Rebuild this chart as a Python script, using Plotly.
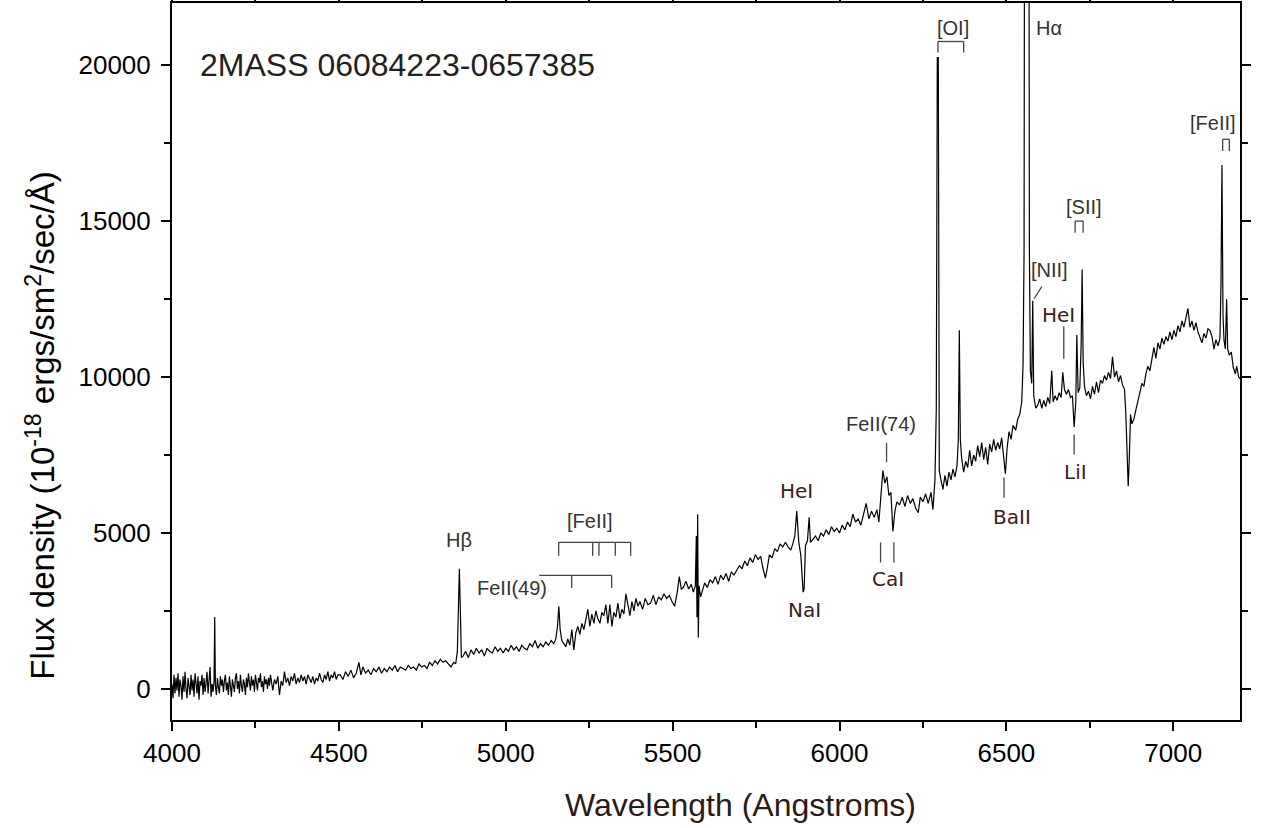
import plotly.graph_objects as go

# ---------------- spectrum data ----------------
# blue, noisy part: (wavelength, flux) points
seg_a = [(4000, 150), (4003, -300), (4006, 450), (4009, -150), (4012, 350), (4015, -50), (4018, 500),
         (4021, -250), (4024, 300), (4027, 100), (4030, -350), (4033, 400), (4036, -100), (4039, 550),
         (4042, 0), (4045, -300), (4048, 350), (4051, 150), (4054, -200), (4057, 450), (4060, -50),
         (4063, 300), (4066, -250), (4069, 500), (4072, 50), (4075, -150), (4078, 400), (4081, -350),
         (4084, 250), (4087, 100), (4090, 450), (4093, -200), (4096, 350), (4099, -100), (4102, 200),
         (4105, 550), (4108, -150), (4111, 300), (4114, 700), (4117, -250), (4120, 150), (4123, -100),
         (4126, 250), (4128, 2300), (4130, 100), (4133, -200), (4136, 350), (4139, 50), (4142, -150),
         (4145, 400), (4148, 100), (4151, 300), (4154, -100), (4157, 250), (4160, 450), (4163, -50),
         (4166, 200), (4169, -200), (4172, 400), (4175, 100), (4178, -250), (4181, 300), (4184, 150),
         (4187, -100), (4190, 350), (4193, 500), (4196, 0), (4199, 250), (4202, -150), (4205, 450),
         (4208, 100), (4211, -100), (4214, 300), (4217, 150), (4220, -200), (4223, 350), (4226, 50),
         (4229, 500), (4232, 200), (4235, -50), (4238, 400), (4241, 100), (4244, 300), (4247, -100),
         (4250, 450), (4253, 150), (4256, -50), (4259, 350), (4262, 200), (4265, 500), (4268, 50),
         (4271, 250), (4274, -100), (4277, 400), (4280, 150), (4283, 300), (4286, 0), (4289, 350),
         (4292, 100), (4295, 450), (4298, 200), (4302, -50), (4307, 300), (4312, 150), (4317, 400),
         (4322, -200), (4327, 250), (4332, 100), (4337, 550), (4342, 200), (4347, 350), (4352, 100),
         (4357, 400), (4362, 250), (4367, 500), (4372, 150), (4377, 350), (4382, 200), (4387, 450),
         (4392, 250), (4397, 400), (4402, 150), (4407, 450), (4412, 300), (4417, 200), (4422, 400),
         (4427, 150), (4432, 350), (4437, 250), (4442, 500), (4447, 300), (4452, 200), (4457, 450),
         (4462, 300), (4467, 550), (4472, 250), (4477, 450), (4482, 350), (4487, 550), (4492, 300),
         (4497, 450)]
wl_a = [p[0] for p in seg_a]
fx_a = [p[1] for p in seg_a]

wl_b = [4504, 4512, 4520, 4528, 4536, 4544, 4552, 4560, 4566, 4572, 4580, 4588, 4596, 4604, 4612,
        4620, 4628, 4636, 4644, 4652, 4660, 4668, 4676, 4684, 4692, 4700, 4708, 4716, 4724, 4732,
        4740, 4748, 4756, 4764, 4772, 4780, 4788, 4796, 4804, 4812, 4820, 4828, 4836, 4844, 4850,
        4855, 4858, 4861, 4864, 4867, 4872, 4880, 4888, 4896, 4904, 4912, 4920, 4928, 4936, 4944,
        4952, 4960, 4968, 4976, 4984, 4992]
fx_b = [450, 300, 550, 400, 600, 350, 500, 850, 450, 700, 500, 600, 450, 650, 550,
        700, 500, 650, 550, 700, 600, 750, 550, 700, 650, 600, 750, 650, 700, 600,
        800, 700, 750, 650, 850, 750, 900, 800, 950, 850, 900, 800, 700, 850, 800,
        1200, 3000, 3850, 2500, 1000, 1050, 1200, 1000, 1250, 1100, 1300, 1150, 1250, 1050, 1300,
        1200, 1150, 1350, 1200, 1300, 1150]

wl_c = [5000, 5008, 5016, 5024, 5032, 5040, 5048, 5056, 5064, 5072, 5080, 5088, 5096, 5104, 5112,
        5120, 5128, 5136, 5144, 5150, 5155, 5159, 5163, 5168, 5174, 5180, 5186, 5192, 5198, 5204,
        5210, 5216, 5222, 5228, 5234, 5240, 5246, 5252, 5258, 5264, 5270, 5276, 5282, 5288, 5294,
        5300, 5306, 5312, 5318, 5324, 5330, 5336, 5342, 5348, 5354, 5360, 5366, 5372, 5378, 5384,
        5390, 5396, 5402, 5410, 5418, 5426, 5434, 5442, 5450, 5458, 5466, 5474, 5482, 5490, 5498,
        5506, 5514, 5520, 5526, 5532, 5540, 5548, 5556, 5562, 5568, 5571, 5573, 5575, 5577, 5579,
        5584, 5590, 5596]
fx_c = [1300, 1200, 1400, 1250, 1350, 1200, 1400, 1300, 1250, 1450, 1350, 1550, 1300, 1450, 1350,
        1500, 1400, 1550, 1450, 1600, 2000, 2650, 1900, 1550, 1450, 1350, 1600, 1400, 1900, 1250,
        1800, 2000, 1750, 2100, 1900, 2200, 2550, 2000, 2400, 2100, 2500, 2250, 2100, 2450, 2350,
        2700, 2100, 2700, 2000, 2450, 2300, 2750, 2250, 2550, 2400, 3050, 2650, 2350, 2800, 2500,
        2900, 2650, 2800, 2550, 2900, 2700, 2750, 3000, 2700, 2950, 2850, 3050, 2900, 3000, 2800,
        2650, 3100, 3600, 3200, 3250, 3450, 3200, 3350, 3100, 3300, 4900, 2300, 5600, 1650, 3300,
        2950, 3150, 3400]

wl_d = [5604, 5612, 5620, 5628, 5636, 5644, 5652, 5660, 5668, 5676, 5684, 5692, 5700, 5708, 5716,
        5724, 5732, 5740, 5748, 5756, 5764, 5770, 5778, 5784, 5790, 5798, 5806, 5814, 5822, 5830,
        5838, 5846, 5854, 5860, 5866, 5872, 5878, 5884, 5888, 5891, 5894, 5898, 5904, 5909, 5913,
        5920, 5928, 5936, 5944, 5952, 5960, 5968, 5976, 5984, 5992, 6000, 6008, 6016, 6024, 6032,
        6040, 6048, 6056, 6064, 6072, 6080, 6088, 6096, 6104, 6112, 6118, 6124, 6130, 6136, 6142,
        6148, 6154, 6160, 6166, 6172, 6180, 6188, 6196, 6204, 6212, 6220, 6228, 6236, 6242, 6250,
        6258, 6266, 6274, 6280, 6286, 6290, 6293, 6296, 6299, 6304]
fx_d = [3250, 3500, 3400, 3600, 3350, 3650, 3500, 3700, 3450, 3750, 3650, 3800, 3950, 3850, 4100,
        3950, 4200, 4050, 4300, 4150, 4250, 3900, 3550, 3900, 4300, 4200, 4500, 4400, 4650, 4550,
        4700, 4550, 4450, 4650, 4900, 5700, 4700, 4300, 3500, 3100, 3200, 4600, 4750, 5500, 4700,
        4800, 4900, 4750, 5000, 4900, 5100, 4950, 5200, 5050, 5150, 5000, 5250, 5100, 5350, 5200,
        5600, 5350, 5450, 5250, 5650, 5950, 5450, 5700, 5500, 5750, 5350, 6100, 7000, 6600, 6800,
        6200, 6300, 5050, 5700, 6000, 5900, 6150, 5850, 6200, 5950, 6100, 5800, 5650, 6150, 6000,
        6250, 5950, 6300, 5750, 6700, 9000, 20250, 20250, 7000, 6700]

wl_e = [6310, 6316, 6322, 6328, 6334, 6340, 6346, 6352, 6356, 6359, 6362, 6366, 6372, 6378, 6384,
        6390, 6396, 6402, 6408, 6414, 6420, 6426, 6432, 6438, 6444, 6450, 6456, 6462, 6468, 6474,
        6480, 6486, 6492, 6497, 6502, 6508, 6514, 6520, 6528, 6534, 6540, 6546, 6550, 6553, 6556,
        6566, 6569, 6572, 6576, 6579, 6582, 6588]
fx_e = [6400, 6850, 6500, 6950, 6700, 7050, 6800, 7150, 8000, 11500, 8000, 7400, 6950, 7300, 7100,
        7650, 7150, 7500, 7300, 7800, 7450, 7900, 7350, 7750, 7200, 7850, 7600, 8000, 7650, 7900,
        7700, 8050, 7500, 6900, 7700, 8250, 8000, 8450, 8300, 8650, 8800, 9200, 10400, 14000, 40000,
        40000, 14000, 10200, 9800, 12450, 9400, 9000]

wl_f = [6594, 6600, 6606, 6612, 6618, 6624, 6630, 6636, 6640, 6646, 6652, 6658, 6664, 6669, 6674,
        6680, 6686, 6692, 6698, 6703, 6708, 6711, 6715, 6720, 6724, 6727, 6730, 6734, 6740, 6746,
        6752, 6758, 6764, 6770, 6776, 6782, 6788, 6794, 6800, 6806, 6812, 6818, 6824, 6830, 6836,
        6842, 6848, 6854, 6858, 6862, 6865, 6868, 6872, 6876, 6882, 6888, 6894, 6900, 6906, 6912,
        6918, 6924, 6930, 6936, 6942, 6948, 6954, 6960, 6966, 6972, 6978, 6984, 6990, 6996, 7002,
        7008, 7014, 7020, 7026, 7032, 7038, 7044, 7050, 7056, 7062, 7068, 7074, 7080, 7086, 7092,
        7098, 7104, 7110, 7116, 7122, 7128, 7134, 7140, 7143, 7146, 7149, 7152, 7156, 7160, 7163,
        7168, 7174, 7180, 7186, 7190, 7196, 7200]
fx_f = [9100, 9300, 9000, 9250, 9050, 9350, 9150, 10200, 9200, 9400, 9250, 9500, 9350, 10150, 9600,
        9450, 9600, 9350, 9400, 8400, 9200, 11350, 9500, 9650, 11000, 13450, 10500, 9700, 9400, 9550,
        9300, 9700, 9450, 9850, 9500, 9900, 9800, 10050, 9900, 10150, 9950, 10650, 10000, 10200, 9850,
        10050, 9750, 9600, 8800, 7200, 6500, 7300, 8800, 8500, 8650, 8950, 9200, 9500, 9800, 9700,
        10100, 10350, 10200, 10650, 10950, 10600, 11100, 10900, 11250, 11050, 11300, 11150, 11450, 11200, 11500,
        11300, 11650, 11450, 11800, 11600, 11950, 12200, 11600, 11800, 11500, 11750, 11450, 11300, 11100, 11400,
        11250, 11550, 11500, 11300, 10900, 11200, 11000, 11250, 13000, 16800, 12000, 11200, 10900, 12500, 10900,
        10700, 10800, 10300, 10100, 10350, 10000, 9950]

wavelength = wl_a + wl_b + wl_c + wl_d + wl_e + wl_f
flux = fx_a + fx_b + fx_c + fx_d + fx_e + fx_f

# axis ticks
x_ticks = [4000, 4500, 5000, 5500, 6000, 6500, 7000]
y_ticks = [0, 5000, 10000, 15000, 20000]

TXT = "#333333"
BRN = "#3d2020"
ARIAL = "Liberation Sans, Arial, sans-serif"
VERD = "DejaVu Sans, Verdana, sans-serif"

# line labels: (text, x, y, colour, font)
labels = [
    ("Hβ", 4860, 4790, TXT, ARIAL),
    ("[FeII]", 5252, 5390, TXT, ARIAL),
    ("FeII(49)", 5019, 3230, TXT, ARIAL),
    ("HeI", 5870, 6360, BRN, VERD),
    ("NaI", 5896, 2540, BRN, VERD),
    ("FeII(74)", 6125, 8500, TXT, ARIAL),
    ("CaI", 6145, 3530, BRN, VERD),
    ("BaII", 6517, 5520, BRN, VERD),
    ("[OI]", 6339, 21210, TXT, ARIAL),
    ("Hα", 6627, 21200, TXT, ARIAL),
    ("[FeII]", 7118, 18160, TXT, ARIAL),
    ("[SII]", 6732, 15470, TXT, ARIAL),
    ("[NII]", 6630, 13430, TXT, ARIAL),
    ("HeI", 6657, 11980, BRN, VERD),
    ("LiI", 6708, 6950, BRN, VERD),
]

# marker ticks: (x0, y0, x1, y1)
tick_marks = [
    # [FeII] bracket
    (5158.6, 4698, 5374.3, 4698),
    (5158.6, 4698, 5158.6, 4271), (5260.5, 4698, 5260.5, 4271), (5279.3, 4698, 5279.3, 4271),
    (5328.2, 4698, 5328.2, 4271), (5374.3, 4698, 5374.3, 4271),
    # FeII(49) bracket
    (5100.4, 3638, 5317.3, 3638),
    (5197.5, 3638, 5197.5, 3233), (5317.3, 3638, 5317.3, 3233),
    # FeII(74)
    (6141, 7890, 6141, 7270),
    # CaI
    (6123, 4698, 6123, 4056), (6163, 4698, 6163, 4056),
    # BaII
    (6493, 6775, 6493, 6133),
    # [OI]
    (6295, 20765, 6372, 20765), (6295, 20765, 6295, 20412), (6372, 20765, 6372, 20412),
    # [FeII] red
    (7148, 17628, 7168, 17628), (7148, 17628, 7148, 17253), (7168, 17628, 7168, 17253),
    # [SII]
    (6706, 15005, 6730, 15005), (6706, 15005, 6706, 14630), (6730, 15005, 6730, 14630),
    # [NII]
    (6606, 12899, 6583, 12513),
    # HeI 6678
    (6672, 11633, 6672, 10587),
    # LiI
    (6703, 8156, 6703, 7514),
]

fig = go.Figure()
fig.add_trace(go.Scatter(x=wavelength, y=flux, mode="lines",
                         line=dict(color="black", width=1.2), hoverinfo="skip",
                         showlegend=False))

for t, x, y, c, f in labels:
    fig.add_annotation(x=x, y=y, text=t, showarrow=False, xref="x", yref="y",
                       font=dict(family=f, size=20, color=c))

fig.add_annotation(x=4078, y=20000, text="2MASS 06084223-0657385", showarrow=False,
                   xanchor="left", yanchor="middle", xref="x", yref="y",
                   font=dict(family=ARIAL, size=32, color="#231f20"))

# axis titles
fig.add_annotation(x=0.532, y=-0.118, xref="paper", yref="paper", showarrow=False,
                   text="Wavelength (Angstroms)", xanchor="center", yanchor="middle",
                   font=dict(family=ARIAL, size=32, color="#2a1a18"))
fig.add_annotation(x=-0.123, y=0.41, xref="paper", yref="paper", showarrow=False,
                   text="Flux density (10<sup>-18</sup> ergs/sm<sup>2</sup>/sec/Å)", textangle=-90,
                   xanchor="center", yanchor="middle",
                   font=dict(family=ARIAL, size=33, color="black"))

for x0, y0, x1, y1 in tick_marks:
    fig.add_shape(type="line", x0=x0, y0=y0, x1=x1, y1=y1, xref="x", yref="y",
                  line=dict(color="#444444", width=1.3))

axis_common = dict(showline=True, linecolor="black", linewidth=2, mirror="allticks",
                   ticks="outside", tickcolor="black", tickwidth=2, ticklen=9,
                   showgrid=False, zeroline=False, automargin=False,
                   tickfont=dict(family=ARIAL, size=26, color="black"))

fig.update_xaxes(range=[4000, 7200], tickvals=x_ticks, ticktext=[str(v) for v in x_ticks],
                 minor=dict(ticks="outside", dtick=250, ticklen=6, tickwidth=2, tickcolor="black"),
                 **axis_common)
fig.update_yaxes(range=[-1000, 22000], tickvals=y_ticks, ticktext=[str(v) for v in y_ticks],
                 minor=dict(ticks="outside", dtick=2500, ticklen=6, tickwidth=2, tickcolor="black"),
                 ticklabelstandoff=5,
                 **axis_common)

fig.update_layout(width=1264, height=828, plot_bgcolor="white", paper_bgcolor="white",
                  margin=dict(l=172, r=24, t=3, b=108))

fig.write_html("out.html", config={"displayModeBar": False},
               post_script="document.body.style.margin='0px';")
